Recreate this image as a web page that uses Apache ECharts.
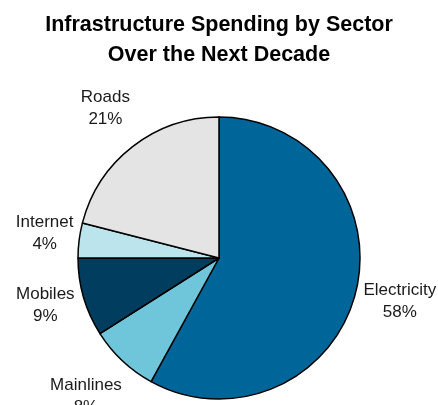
<!DOCTYPE html>
<html>
<head>
<meta charset="utf-8">
<script src="https://cdn.jsdelivr.net/npm/echarts@6/dist/echarts.min.js"></script>
<style>
  html, body { margin: 0; padding: 0; background: #ffffff; }
  #chart { width: 438px; height: 405px; }
</style>
</head>
<body>
<div id="chart"></div>
<script>
// Share of infrastructure spending per sector (percent)
const sectors = ['Electricity', 'Mainlines', 'Mobiles', 'Internet', 'Roads'];
const shares = [58, 8, 9, 4, 21];
const sectorColors = ['#006699', '#6fc5d9', '#003d5e', '#bce4ec', '#e4e4e4'];

const PIE_CX = 219;
const PIE_CY = 258;
const PIE_R = 141;

const total = shares.reduce((a, b) => a + b, 0);
// mid-angle of each slice, measured clockwise from 12 o'clock
const midAngles = [];
let acc = 0;
shares.forEach(v => {
  midAngles.push((acc + v / 2) / total * Math.PI * 2);
  acc += v;
});

const chart = echarts.init(document.getElementById('chart'));
chart.setOption({
  animation: false,
  title: {
    text: 'Infrastructure Spending by Sector\nOver the Next Decade',
    left: 'center',
    top: 5,
    textStyle: {
      fontFamily: 'Liberation Sans, Arial, sans-serif',
      fontWeight: 'bold',
      fontSize: 21.5,
      lineHeight: 30,
      color: '#000000'
    }
  },
  series: [{
    type: 'pie',
    center: [PIE_CX, PIE_CY],
    radius: [0, PIE_R],
    startAngle: 90,
    clockwise: true,
    data: sectors.map((name, i) => ({
      name: name,
      value: shares[i],
      itemStyle: { color: sectorColors[i] }
    })),
    itemStyle: { borderColor: '#000000', borderWidth: 1.5 },
    label: {
      show: true,
      position: 'inside',
      formatter: p => p.name + '\n' + p.value + '%',
      fontFamily: 'Liberation Sans, Arial, sans-serif',
      fontSize: 17,
      lineHeight: 22,
      color: '#1a1a1a',
      align: 'center'
    },
    labelLine: { show: false },
    // place each label just outside the rim, pushed out by its own box size
    labelLayout: params => {
      const a = midAngles[params.dataIndex];
      const s = Math.sin(a), c = Math.cos(a);
      const hw = params.labelRect.width / 2;
      const hh = params.labelRect.height / 2 - 3;
      const s2 = Math.sin(2 * a);
      const d = PIE_R + 3 + hw * Math.abs(s) + hh * Math.abs(c) + 12 * s2 * s2;
      return {
        x: PIE_CX + d * s,
        y: PIE_CY - d * c - 3,
        align: 'center',
        verticalAlign: 'middle'
      };
    },
    emphasis: { disabled: true }
  }]
});
</script>
</body>
</html>
